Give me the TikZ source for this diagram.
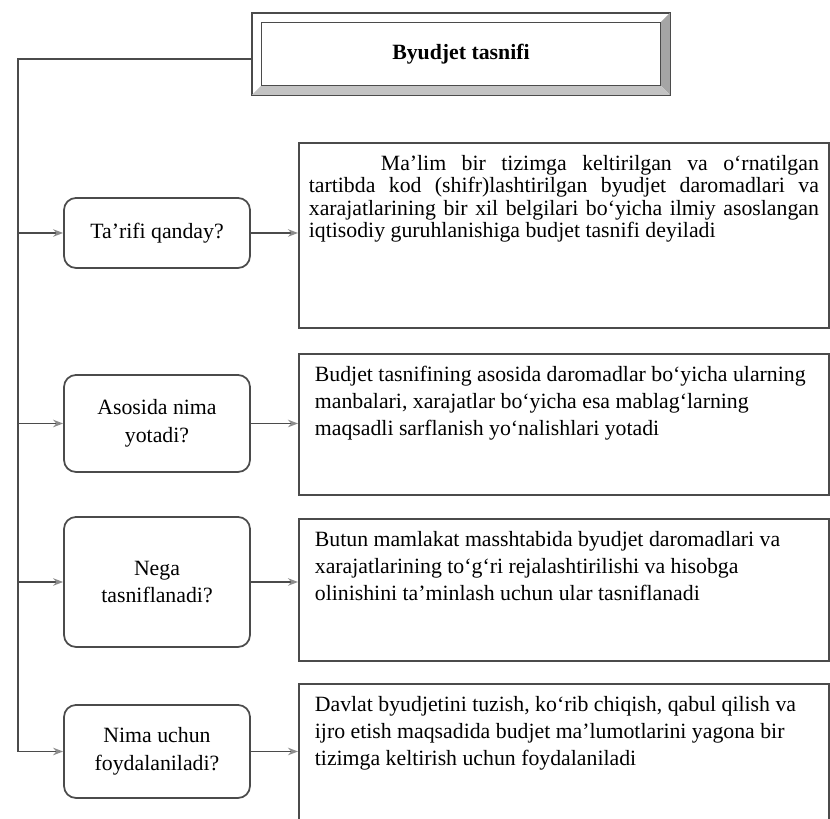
\documentclass[tikz,border=0pt]{standalone}
\usepackage{fontspec}
\setmainfont{Liberation Serif}
\usepackage{xcolor}
\usetikzlibrary{arrows.meta, positioning, calc}
\definecolor{linegray}{RGB}{75,75,75}
\definecolor{tipgray}{RGB}{140,140,140}
\definecolor{bevelright}{RGB}{165,165,165}
\definecolor{bevelbottom}{RGB}{195,195,195}

\begin{document}
\begin{tikzpicture}[
    qbox/.style={rectangle, rounded corners=0.24cm, draw=linegray, line width=1pt, minimum width=3.72cm, minimum height=#1, align=center, font=\fontsize{12.4}{15.6}\selectfont},
    ansbox/.style={rectangle, draw=linegray, line width=1pt, anchor=north west, inner xsep=0.32cm, inner ysep=0.25cm, font=\fontsize{12.4}{15.4}\selectfont},
    titlebox/.style={rectangle, draw=linegray, line width=0.8pt, minimum width=8.36cm, minimum height=1.64cm, font=\fontsize{12.4}{14}\selectfont\bfseries},
    arrow/.style={-{Stealth[length=2mm, width=1.5mm, color=tipgray]}, draw=linegray, line width=0.9pt}
]
\useasboundingbox (0,0) rectangle (16.6,16.38);

% Title
\node[titlebox] (title) at (9.22, 15.3) {Byudjet tasnifi};
\coordinate (tin-nw) at ($(title.north west)+(0.2,-0.2)$);
\coordinate (tin-se) at ($(title.south east)+(-0.2,0.2)$);
\fill[bevelright] (title.north east) -- (title.south east) -- (tin-se) -- (tin-se |- tin-nw) -- cycle;
\fill[bevelbottom] (title.south west) -- (title.south east) -- (tin-se) -- (tin-nw |- tin-se) -- cycle;
\draw[linegray, line width=0.8pt] (tin-nw) rectangle (tin-se);
\draw[linegray, line width=0.8pt] (title.north west) rectangle (title.south east);

% Questions
\node[qbox=1.4cm] (q1) at (3.14, 11.72) {Ta’rifi qanday?};
\node[qbox=1.94cm] (q2) at (3.14, 7.91) {Asosida nima\\yotadi?};
\node[qbox=2.6cm] (q3) at (3.14, 4.74) {Nega\\tasniflanadi?};
\node[qbox=1.86cm] (q4) at (3.14, 1.35) {Nima uchun\\foydalaniladi?};

% Answers
\node[ansbox, inner xsep=0.2cm, font=\fontsize{12.4}{12.8}\selectfont] (ans1) at (5.96, 13.54) {\parbox[t][3.2cm][t]{10.2cm}{\hspace*{1.44cm}Ma’lim bir tizimga keltirilgan va o‘rnatilgan\linebreak tartibda kod (shifr)lashtirilgan byudjet daromadlari va\linebreak xarajatlarining bir xil belgilari bo‘yicha ilmiy asoslangan\linebreak iqtisodiy guruhlanishiga budjet tasnifi deyiladi}};
\node[ansbox] (ans2) at (5.96, 9.32) {\parbox[t][2.32cm][t]{9.96cm}{Budjet tasnifining asosida daromadlar bo‘yicha ularning\\ manbalari, xarajatlar bo‘yicha esa mablag‘larning\\ maqsadli sarflanish yo‘nalishlari yotadi}};
\node[ansbox] (ans3) at (5.96, 6.02) {\parbox[t][2.34cm][t]{9.96cm}{Butun mamlakat masshtabida byudjet daromadlari va\\ xarajatlarining to‘g‘ri rejalashtirilishi va hisobga\\ olinishini ta’minlash uchun ular tasniflanadi}};
\node[ansbox] (ans4) at (5.96, 2.72) {\parbox[t][2.64cm][t]{9.96cm}{Davlat byudjetini tuzish, ko‘rib chiqish, qabul qilish va\\ ijro etish maqsadida budjet ma’lumotlarini yagona bir\\ tizimga keltirish uchun foydalaniladi}};

% Connectors
\coordinate (trunk) at (0.36, 0);
\draw[arrow] ([yshift=-0.1cm]title.west) -- ([yshift=-0.1cm]title.west -| trunk) |- (q4.west);
\foreach \i in {1,2,3}
    \draw[arrow] (q\i.west -| trunk) -- (q\i.west);
\foreach \i in {1,...,4}
    \draw[arrow] (q\i.east) -- (q\i.east -| ans\i.west);

\end{tikzpicture}
\end{document}
